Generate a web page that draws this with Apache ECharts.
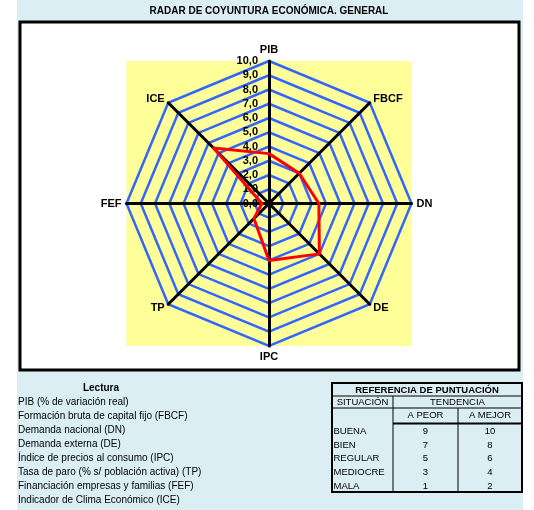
<!DOCTYPE html>
<html><head><meta charset="utf-8">
<script src="https://cdn.jsdelivr.net/npm/echarts@6/dist/echarts.min.js"></script>
<style>html,body{margin:0;padding:0;background:#fff}#c{width:534px;height:510px}</style>
</head><body><div id="c"></div>
<script>
// ---- data ----
var categories = ['PIB', 'FBCF', 'DN', 'DE', 'IPC', 'TP', 'FEF', 'ICE'];
var values = [3.5, 3.0, 3.5, 5.0, 4.0, 1.5, 0.5, 5.5];
var axisMax = 10;
var lecturaLines = [
  'PIB (% de variación real)',
  'Formación bruta de capital fijo (FBCF)',
  'Demanda nacional (DN)',
  'Demanda externa (DE)',
  'Índice de precios al consumo (IPC)',
  'Tasa de paro (% s/ población activa) (TP)',
  'Financiación empresas y familias (FEF)',
  'Indicador de Clima Económico (ICE)'
];
var situaciones = ['BUENA', 'BIEN', 'REGULAR', 'MEDIOCRE', 'MALA'];
var aPeor = [9, 7, 5, 3, 1];
var aMejor = [10, 8, 6, 4, 2];

// ---- layout ----
var FONT = 'Arial, "Liberation Sans", sans-serif';
var cx = 269, cy = 203.5, R = 142.5;
// ECharts lays indicators counter-clockwise; reorder to get clockwise reading
var order = [0];
for (var i = categories.length - 1; i >= 1; i--) order.push(i);
var indicator = order.map(function (k, j) {
  var ind = { name: categories[k], min: 0, max: axisMax };
  if (j === 0) {
    ind.axisLabel = {
      show: true, margin: 11, color: '#000', fontFamily: FONT, fontSize: 11, fontWeight: 'bold',
      formatter: function (v) { return v.toFixed(1).replace('.', ','); }
    };
  }
  return ind;
});
var orderedValues = order.map(function (k) { return values[k]; });

var g = [];
// panel backgrounds
g.push({ type: 'rect', z: -10, shape: { x: 17, y: 0, width: 506, height: 510 }, style: { fill: '#DBEEF3' } });
g.push({ type: 'rect', z: -9, shape: { x: 20, y: 22, width: 499, height: 348 }, style: { fill: '#fff', stroke: '#000', lineWidth: 3 } });
g.push({ type: 'rect', z: -8, shape: { x: cx - R, y: cy - R, width: 2 * R, height: 2 * R }, style: { fill: '#FFFF99' } });
g.push({ type: 'text', z: 5, style: { x: 269, y: 11, text: 'RADAR DE COYUNTURA ECONÓMICA. GENERAL', font: 'bold 10px ' + FONT, fill: '#000', textAlign: 'center', textVerticalAlign: 'middle' } });
// Lectura block
g.push({ type: 'text', z: 5, style: { x: 101, y: 388, text: 'Lectura', font: 'bold 10px ' + FONT, fill: '#000', textAlign: 'center', textVerticalAlign: 'middle' } });
lecturaLines.forEach(function (t, k) {
  g.push({ type: 'text', z: 5, style: { x: 18, y: 402.5 + k * 13.95, text: t, font: '10px ' + FONT, fill: '#000', textAlign: 'left', textVerticalAlign: 'middle' } });
});
// reference table
var tx0 = 332, tx1 = 393, tx2 = 458, tx3 = 522, ty0 = 383, ty1 = 396, ty2 = 408, ty3 = 423.5, ty4 = 492;
function line(x1, y1, x2, y2, w) { g.push({ type: 'line', z: 5, shape: { x1: x1, y1: y1, x2: x2, y2: y2 }, style: { stroke: '#000', lineWidth: w } }); }
function txt(x, y, t, align, bold) { g.push({ type: 'text', z: 5, style: { x: x, y: y, text: t, font: (bold ? 'bold ' : '') + '9.5px ' + FONT, fill: '#000', textAlign: align, textVerticalAlign: 'middle' } }); }
g.push({ type: 'rect', z: 4, shape: { x: tx0, y: ty0, width: tx3 - tx0, height: ty4 - ty0 }, style: { fill: 'none', stroke: '#000', lineWidth: 2 } });
line(tx0, ty1, tx3, ty1, 1);
line(tx0, ty2, tx3, ty2, 1);
line(tx1, ty3, tx3, ty3, 2);
line(tx1, ty1, tx1, ty4, 1);
line(tx2, ty2, tx2, ty4, 1);
txt((tx0 + tx3) / 2, (ty0 + ty1) / 2 + 0.5, 'REFERENCIA DE PUNTUACIÓN', 'center', true);
txt((tx0 + tx1) / 2, (ty1 + ty2) / 2 + 0.5, 'SITUACIÓN', 'center', false);
txt((tx1 + tx3) / 2, (ty1 + ty2) / 2 + 0.5, 'TENDENCIA', 'center', false);
txt((tx1 + tx2) / 2, (ty2 + ty3) / 2, 'A PEOR', 'center', false);
txt((tx2 + tx3) / 2, (ty2 + ty3) / 2, 'A MEJOR', 'center', false);
situaciones.forEach(function (s, k) {
  var y = 431 + k * 13.9;
  txt(tx0 + 1.5, y, s, 'left', false);
  txt((tx1 + tx2) / 2, y, String(aPeor[k]), 'center', false);
  txt((tx2 + tx3) / 2, y, String(aMejor[k]), 'center', false);
});

var chart = echarts.init(document.getElementById('c'), null, { renderer: 'canvas' });
chart.setOption({
  animation: false,
  backgroundColor: '#fff',
  graphic: { elements: g },
  radar: {
    z: 2,
    center: [cx, cy],
    radius: R,
    startAngle: 90,
    splitNumber: 10,
    shape: 'polygon',
    indicator: indicator,
    nameGap: 5,
    axisName: { color: '#000', fontFamily: FONT, fontSize: 11, fontWeight: 'bold' },
    axisLine: { lineStyle: { color: '#000', width: 3 } },
    axisTick: { show: false },
    axisLabel: { show: false },
    splitLine: { lineStyle: { color: '#3366FF', width: 2.5 } },
    splitArea: { show: false }
  },
  series: [{
    type: 'radar',
    z: 3,
    symbol: 'none',
    lineStyle: { color: '#FF0000', width: 3 },
    data: [{ value: orderedValues }]
  }]
});
</script></body></html>
